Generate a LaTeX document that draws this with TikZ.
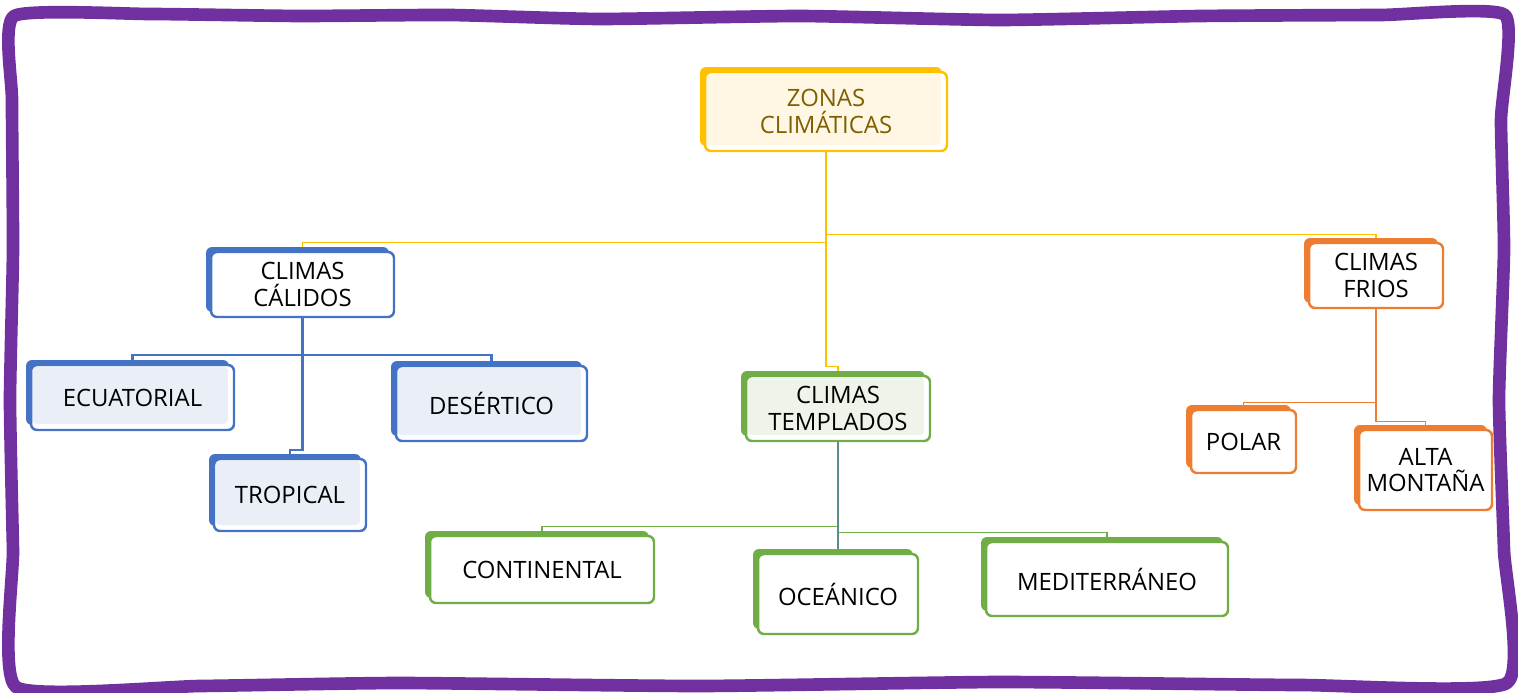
\documentclass[tikz,border=0pt]{standalone}
\usepackage{fontspec}
\setmainfont{Open Sans}
\usetikzlibrary{positioning,shadows,backgrounds}

\definecolor{cFrame}{HTML}{7030A0}
\definecolor{cY}{HTML}{FFC000}
\definecolor{cYfill}{HTML}{FFF7E3}
\definecolor{cYtext}{HTML}{7F6000}
\definecolor{cB}{HTML}{4472C4}
\definecolor{cBfill}{HTML}{E9EEF7}
\definecolor{cG}{HTML}{70AD47}
\definecolor{cGfill}{HTML}{EFF4EA}
\definecolor{cO}{HTML}{ED7D31}

\tikzset{
  box/.style={draw=#1, line width=1.4pt, fill=white, rounded corners=0.12cm,
    align=center, inner sep=0pt, font=\fontsize{13.6}{15}\selectfont,
    general shadow={fill=#1, shadow xshift=-0.1cm, shadow yshift=0.1cm}},
  tint/.style={path picture={\fill[#1, rounded corners=0.08cm]
    ([shift={(0.03cm,-0.03cm)}]path picture bounding box.north west) rectangle
    ([shift={(-0.12cm,0.12cm)}]path picture bounding box.south east);}},
  yline/.style={draw=cY, line width=0.6pt},
  bline/.style={draw=cB, line width=1.4pt},
  gline/.style={draw=cG, line width=0.6pt},
  bgline/.style={draw=cB!55!cG, line width=1pt},
  oline/.style={draw=cO, line width=0.7pt}
}

\begin{document}
\begin{tikzpicture}[x=0.02cm, y=-0.02cm]
\useasboundingbox (0,0) rectangle (1518,693);

\draw[cFrame, line width=7.2pt, line join=round] plot[smooth cycle, tension=0.3] coordinates {
  (14,16) (150,14) (300,16) (450,15) (600,19) (800,16) (1000,20) (1200,16) (1380,15) (1505,15)
  (1501,120) (1504,250) (1499,400) (1504,550) (1507,683)
  (1300,685) (1000,682) (700,686) (400,683) (200,686) (16,687)
  (13,550) (10,400) (13,250) (12,100)};

\node (zonas) [box=cY, tint=cYfill, text=cYtext, minimum width=4.84cm, minimum height=1.58cm] at (826,111.5) {ZONAS\\CLIMÁTICAS};

\node (calidos) [box=cB, minimum width=3.66cm, minimum height=1.3cm] at (302.5,284.5) {CLIMAS\\CÁLIDOS};
\node (ecuatorial) [box=cB, tint=cBfill, minimum width=4.06cm, minimum height=1.3cm] at (132.5,397.5) {ECUATORIAL};
\node (desertico) [box=cB, tint=cBfill, minimum width=3.82cm, minimum height=1.5cm] at (491.5,403.5) {DESÉRTICO};
\node (tropical) [box=cB, tint=cBfill, minimum width=3.04cm, minimum height=1.44cm] at (290,495) {TROPICAL};

\node (templados) [box=cG, tint=cGfill, minimum width=3.68cm, minimum height=1.3cm] at (838,408.5) {CLIMAS\\TEMPLADOS};
\node (continental) [box=cG, minimum width=4.48cm, minimum height=1.34cm] at (542,569.5) {CONTINENTAL};
\node (oceanico) [box=cG, minimum width=3.2cm, minimum height=1.6cm] at (838,594) {OCEÁNICO};
\node (mediterraneo) [box=cG, minimum width=4.84cm, minimum height=1.48cm] at (1107,579) {MEDITERRÁNEO};

\node (frios) [box=cO, minimum width=2.68cm, minimum height=1.3cm] at (1376,275.5) {CLIMAS\\FRIOS};
\node (polar) [box=cO, minimum width=2.1cm, minimum height=1.26cm] at (1243.5,441.5) {POLAR};
\node (alta) [box=cO, minimum width=2.66cm, minimum height=1.6cm] at (1425.5,470) {ALTA\\MONTAÑA};

\begin{scope}[on background layer]
\draw[yline] (zonas.south) -- ++(0,90) -| (calidos.north);
\draw[yline] (zonas.south) -- ++(0,82) -| (frios.north);
\draw[yline] (zonas.south) -- ++(0,214) -| (templados.north);

\draw[bline] (calidos.south) -- ++(0,37) -| (ecuatorial.north);
\draw[bline] (calidos.south) -- ++(0,37) -| (desertico.north);
\draw[bline] (calidos.south) -- ++(0,132) -| (tropical.north);

\draw[gline] (templados.south) -- ++(0,84) -| (continental.north);
\draw[gline] (templados.south) -- ++(0,90) -| (mediterraneo.north);
\draw[bgline] (templados.south) -- (oceanico.north);

\draw[oline] (frios.south) -- ++(0,93) -| (polar.north);
\draw[oline] (frios.south) -- ++(0,112) -| (alta.north);
\end{scope}

\end{tikzpicture}
\end{document}
